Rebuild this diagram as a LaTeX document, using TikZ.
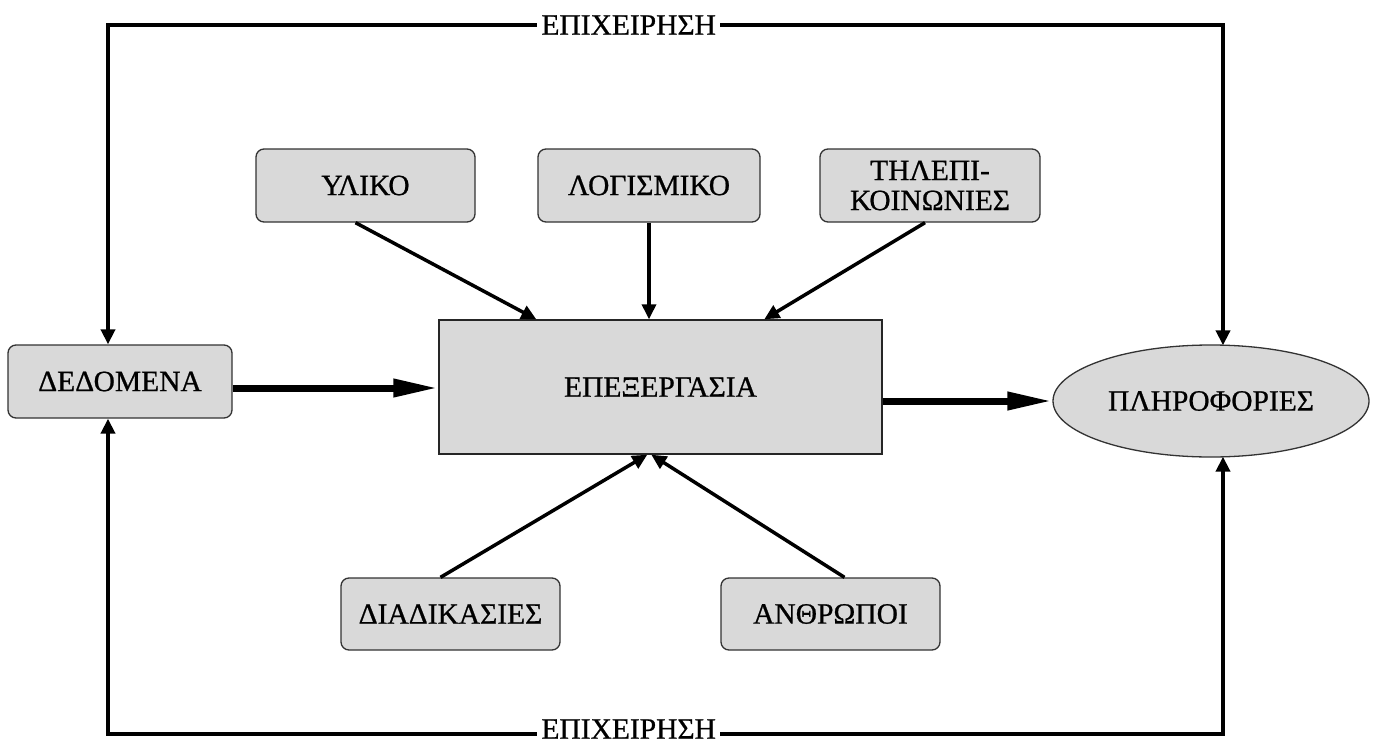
\documentclass[tikz,border=0pt]{standalone}
\usepackage{fontspec}
\setmainfont{Liberation Serif}[UprightFeatures={FakeBold=0.7}]
\usetikzlibrary{arrows.meta,shapes.geometric,calc}

\definecolor{boxfill}{HTML}{D9D9D9}
\definecolor{boxline}{HTML}{333333}

\tikzset{
  every node/.style={font=\fontsize{29.5}{30}\selectfont, text=black},
  roundbox/.style={draw=boxline, line width=1.3pt, fill=boxfill, rounded corners=8pt,
    minimum width=219pt, minimum height=73pt, inner sep=0pt, align=center},
  mainbox/.style={draw=black!85, line width=1.4pt, fill=boxfill,
    minimum width=443pt, minimum height=134pt, inner sep=0pt},
  ovalbox/.style={ellipse, draw=boxline, line width=1.3pt, fill=boxfill,
    minimum width=316pt, minimum height=112pt, inner sep=0pt},
  loopline/.style={line width=4pt, line join=miter, {Triangle[length=15pt,width=14pt]}-{Triangle[length=15pt,width=14pt]}},
  feed/.style={line width=3.5pt, -{Triangle[length=15pt,width=14pt]}},
  flow/.style={line width=7pt, -{Triangle[length=45pt,width=17pt]}},
  looplabel/.style={fill=white, inner xsep=4pt, inner ysep=0pt}
}

\begin{document}
\begin{tikzpicture}[x=1pt, y=-1pt]
  \useasboundingbox (0,0) rectangle (1377,744);

  % central process and its input / output
  \node[mainbox] (epex) at (660.5,387) {ΕΠΕΞΕΡΓΑΣΙΑ};
  \node[roundbox, minimum width=224pt] (dedomena) at (120,381.5) {ΔΕΔΟΜΕΝΑ};
  \node[ovalbox] (plir) at (1211,401) {ΠΛΗΡΟΦΟΡΙΕΣ};

  % resources feeding the process
  \node[roundbox] (yliko) at (365.5,185.5) {ΥΛΙΚΟ};
  \node[roundbox, minimum width=222pt] (logis) at (649,185.5) {ΛΟΓΙΣΜΙΚΟ};
  \node[roundbox, minimum width=220pt] (tile) at (930,185.5) {ΤΗΛΕΠΙ-\\ΚΟΙΝΩΝΙΕΣ};
  \node[roundbox, minimum height=72pt] (diad) at (450.5,614) {ΔΙΑΔΙΚΑΣΙΕΣ};
  \node[roundbox, minimum height=72pt] (anthr) at (830.5,614) {ΑΝΘΡΩΠΟΙ};

  % corners of the enterprise loops
  \coordinate (tl) at (108,25);
  \coordinate (tr) at (1223,25);
  \coordinate (bl) at (108,734);
  \coordinate (br) at (1223,734);

  \draw[loopline] (tl |- dedomena.north) -- (tl) -- node[looplabel, pos=0.467] {ΕΠΙΧΕΙΡΗΣΗ} (tr) -- ($(tr |- plir.north)+(0,1)$);
  \draw[loopline] (bl |- dedomena.south) -- (bl) -- node[looplabel, pos=0.467, yshift=5pt] {ΕΠΙΧΕΙΡΗΣΗ} (br) -- ($(br |- plir.south)+(0,-1)$);

  % main flow
  \draw[flow] (dedomena.east |- 0,388) -- (epex.west |- 0,388);
  \draw[flow] (epex.east |- plir.west) -- (plir.west);

  % resource arrows
  \draw[feed] ($(yliko.south)+(-10,0)$) -- ($(epex.north west)+(98,0)$);
  \draw[feed] (logis.south) -- (logis.south |- epex.north);
  \draw[feed] ($(tile.south)+(-5,0)$) -- ($(epex.north west)+(326,0)$);
  \draw[feed] ($(diad.north)+(-10,0)$) -- ($(epex.south west)+(209,0)$);
  \draw[feed] ($(anthr.north)+(14,0)$) -- ($(epex.south west)+(213,0)$);
\end{tikzpicture}
\end{document}
